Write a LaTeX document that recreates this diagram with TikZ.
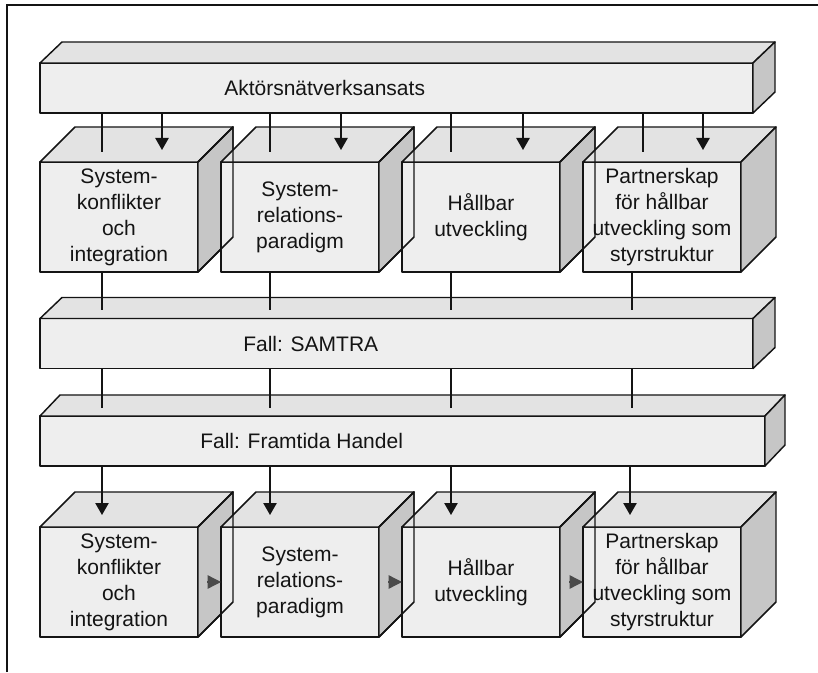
\documentclass[tikz,border=0pt]{standalone}
\usepackage{fontspec}
\setmainfont{Liberation Sans}
\usetikzlibrary{arrows.meta,calc}
\definecolor{fwink}   {HTML}{141414}
\definecolor{fwfront} {HTML}{EEEEEE}
\definecolor{fwtop}   {HTML}{E3E3E3}
\definecolor{fwside}  {HTML}{C6C6C6}
\definecolor{fwtip}   {HTML}{4A4A4A}
\tikzset{
  fwface/.style={draw=fwink, line width=1.1pt, line join=round},
  fwnode/.style={fwface, fill=fwfront, inner sep=0pt, outer sep=0pt, align=center,
                 font=\fontsize{15.75}{19.5}\selectfont, text=fwink},
  fwbox/.style={fwnode, minimum width=118.5pt, minimum height=82.5pt},
  fwbar/.style={fwnode, minimum height=37.5pt},
  fwlabel/.style={anchor=west, inner sep=0pt, font=\fontsize{15.75}{19.5}\selectfont, text=fwink},
  fwline/.style={draw=fwink, line width=1.1pt},
  fwarrow/.style={fwline, -{Triangle[width=10pt,length=9pt]}},
  fwsidearrow/.style={draw=fwtip, line width=1pt, shorten <=7pt, -{Triangle[width=10pt,length=10pt]}},
  fwframe/.style={draw=fwink, line width=1pt},
}

\begin{document}
\begin{tikzpicture}[x=0.75pt,y=0.75pt]
  \useasboundingbox (0,0) rectangle (818,672);
  \draw[fwframe] (7,0) -- (7,667) -- (818,667);

  % bars
  \node[fwbar, minimum width=534.75pt] (akt)    at (396.5,584)   {};
  \node[fwbar, minimum width=534.75pt] (samtra) at (396.5,328.5) {};
  \node[fwbar, minimum width=543.75pt] (handel) at (402.5,231)   {};
  \foreach \n/\dx in {akt/22, samtra/22, handel/20} {
    \draw[fwface, fill=fwtop] (\n.north west) -- ++(\dx,21) -- ([shift={(\dx,21)}]\n.north east) -- (\n.north east) -- cycle;
    \draw[fwface, fill=fwside] (\n.north east) -- ++(\dx,21) -- ([shift={(\dx,21)}]\n.south east) -- (\n.south east) -- cycle;
  }
  \node[fwlabel] (akttxt)    at (224,584)   {Aktörsnätverksansats};
  \node[fwlabel] (samtratxt) at (243,328.5) {Fall: SAMTRA};
  \node[fwlabel] (handeltxt) at (200,231)   {Fall: Framtida Handel};

  % boxes, upper (u) and lower (l) row
  \foreach \r/\y in {u/455, l/90} {
    \foreach \i/\x/\txt in {1/119/{System-\\konflikter\\och\\integration},
                            2/300/{System-\\relations-\\paradigm},
                            3/481/{Hållbar\\utveckling},
                            4/662/{Partnerskap\\för hållbar\\utveckling som\\styrstruktur}} {
      \node[fwbox] (\r\i) at (\x,\y) {\txt};
      \draw[fwface, fill=fwtop] (\r\i.north west) -- ++(35,35) -- ([shift={(35,35)}]\r\i.north east) -- (\r\i.north east) -- cycle;
      \draw[fwface, fill=fwside] (\r\i.north east) -- ++(35,35) -- ([shift={(35,35)}]\r\i.south east) -- (\r\i.south east) -- cycle;
    }
    \foreach \i in {1,2,3}
      \draw[fwface] (\r\i.north east) -- ++(35,35) -- ([shift={(35,35)}]\r\i.south east) -- (\r\i.south east);
  }

  % connector ends
  \foreach \i/\x/\xa/\xs/\xd in {1/102/162/102/102, 2/270/341/270/270,
                                 3/451/523/451/451, 4/643/703/632/630} {
    \coordinate (p\i) at (\x,520);
    \coordinate (a\i) at (\xa,522);
    \coordinate (s\i) at (\xs,362);
    \coordinate (h\i) at (\xs,264);
    \coordinate (d\i) at (\xd,157);
  }
  \foreach \i in {1,...,4} {
    \draw[fwline]  (akt.south -| p\i) -- (p\i);
    \draw[fwarrow] (akt.south -| a\i) -- (a\i);
    \draw[fwline]  (u\i.south -| s\i) -- (s\i);
    \draw[fwline]  (samtra.south -| h\i) -- (h\i);
    \draw[fwarrow] (handel.south -| d\i) -- (d\i);
  }
  \draw[fwsidearrow] (l1.east) -- (l2.west);
  \draw[fwsidearrow] (l2.east) -- (l3.west);
  \draw[fwsidearrow] (l3.east) -- (l4.west);
\end{tikzpicture}
\end{document}
